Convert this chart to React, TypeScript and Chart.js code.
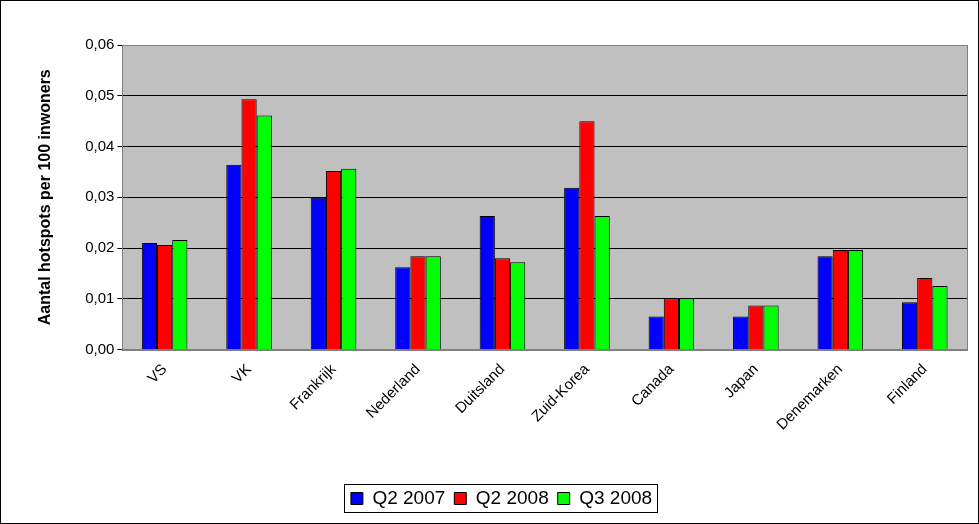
import { useEffect, useRef } from "react"
import { Chart, registerables } from "chart.js"

Chart.register(...registerables)

const categories = ["VS", "VK", "Frankrijk", "Nederland", "Duitsland", "Zuid-Korea", "Canada", "Japan", "Denemarken", "Finland"]
const q2_2007 = [0.021, 0.0364, 0.0299, 0.0162, 0.0263, 0.0319, 0.0065, 0.0065, 0.0184, 0.0093]
const q2_2008 = [0.0206, 0.0493, 0.0352, 0.0184, 0.018, 0.045, 0.0101, 0.0087, 0.0196, 0.0141]
const q3_2008 = [0.0216, 0.0461, 0.0356, 0.0184, 0.0172, 0.0263, 0.0101, 0.0087, 0.0196, 0.0125]

const framePlugin = {
  id: "frame",
  beforeDraw(chart: any) {
    const { ctx, chartArea: a } = chart
    ctx.save()
    ctx.fillStyle = "#ffffff"
    ctx.fillRect(0, 0, chart.width, chart.height)
    ctx.fillStyle = "#c0c0c0"
    ctx.fillRect(a.left, a.top, a.right - a.left, a.bottom - a.top)
    ctx.restore()
  },
  afterDraw(chart: any) {
    const { ctx, chartArea: a } = chart
    ctx.save()
    ctx.strokeStyle = "#000"
    ctx.lineWidth = 1
    ctx.strokeRect(0.5, 0.5, chart.width - 1, chart.height - 1)
    ctx.strokeStyle = "#808080"
    ctx.strokeRect(Math.round(a.left) + 0.5, Math.round(a.top) + 0.5, Math.round(a.right - a.left), Math.round(a.bottom - a.top))
    const boxes = chart.legend?.legendHitBoxes
    if (boxes && boxes.length) {
      const first = boxes[0]
      const last = boxes[boxes.length - 1]
      ctx.strokeStyle = "#000"
      ctx.strokeRect(Math.round(first.left) - 6.5, Math.round(first.top) - 4.5, Math.round(last.left + last.width - first.left) + 12, Math.round(first.height) + 9)
    }
    ctx.restore()
  },
}

export default function App() {
  const chartRef = useRef<HTMLCanvasElement>(null)

  useEffect(() => {
    document.body.style.margin = "0"
    if (!chartRef.current) return
    const mk = (label: string, data: number[], color: string) => ({
      label,
      data,
      backgroundColor: color,
      borderColor: "#000",
      borderWidth: 1,
      barPercentage: 1,
      categoryPercentage: 0.54,
    })
    const chart = new Chart(chartRef.current, {
      type: "bar",
      data: {
        labels: categories,
        datasets: [mk("Q2 2007", q2_2007, "#0000ff"), mk("Q2 2008", q2_2008, "#ff0000"), mk("Q3 2008", q3_2008, "#00ff00")],
      },
      plugins: [framePlugin],
      options: {
        responsive: false,
        animation: false,
        layout: { padding: { top: 45, right: 12, left: 36, bottom: 6 } },
        scales: {
          y: {
            min: 0,
            max: 0.06,
            ticks: {
              stepSize: 0.01,
              color: "#000",
              font: { family: "Arial, Liberation Sans", size: 15 },
              callback: (v: any) => Number(v).toFixed(2).replace(".", ","),
            },
            grid: { color: "#000", drawTicks: true, tickLength: 5 },
            border: { color: "#808080" },
            title: {
              display: true,
              text: "Aantal hotspots per 100 inwoners",
              color: "#000",
              padding: { top: 0, bottom: 27 },
              font: { family: "Arial, Liberation Sans", size: 16, weight: "bold" },
            },
          },
          x: {
            grid: { display: false },
            border: { color: "#808080" },
            afterFit: (s: any) => {
              s.height += 43
            },
            ticks: {
              color: "#000",
              maxRotation: 45,
              minRotation: 45,
              font: { family: "Arial, Liberation Sans", size: 15 },
            },
          },
        },
        plugins: {
          legend: {
            position: "bottom",
            labels: {
              color: "#000",
              boxWidth: 12,
              boxHeight: 12,
              padding: 9,
              font: { family: "Arial, Liberation Sans", size: 19 },
            },
          },
          tooltip: { enabled: false },
        },
      },
    })
    return () => chart.destroy()
  }, [])

  return <canvas ref={chartRef} width={979} height={524} style={{ display: "block" }} />
}
